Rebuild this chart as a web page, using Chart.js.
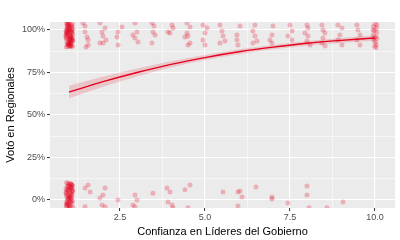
<!DOCTYPE html>
<html><head><meta charset="utf-8">
<script src="https://cdn.jsdelivr.net/npm/chart.js@4/dist/chart.umd.min.js"></script>
<style>html,body{margin:0;padding:0;background:#fff}#wrap{width:400px;height:240px}</style>
</head><body><div id="wrap"><canvas id="c" width="400" height="240"></canvas></div>
<script>
// ---- data ----
const xTicks = [2.5, 5.0, 7.5, 10.0];
const xTickLabels = ["2.5", "5.0", "7.5", "10.0"];
const yTicks = [0, 0.25, 0.5, 0.75, 1];
const yTickLabels = ["0%", "25%", "50%", "75%", "100%"];

// fitted probability curve and its confidence band
const fitX     = [1, 2, 3, 4, 5, 6, 7, 8, 9, 10];
const fitY     = [0.635, 0.696, 0.750, 0.798, 0.838, 0.872, 0.899, 0.922, 0.939, 0.953];
const fitLower = [0.598, 0.666, 0.727, 0.780, 0.823, 0.858, 0.886, 0.908, 0.924, 0.936];
const fitUpper = [0.672, 0.726, 0.773, 0.816, 0.853, 0.886, 0.912, 0.935, 0.953, 0.969];

// jittered observations: voted (near 100%)
const votedX = [0.92,1.05,0.98,1.10,0.95,1.02,1.08,0.91,1.00,1.11,0.96,1.04,0.93,1.07,0.99,1.09,0.94,1.03,1.06,0.97,1.01,1.10,0.92,1.05,0.95,1.08,1.00,0.93,1.04,1.11,0.98,1.02,0.91,1.07,0.96,1.09,0.94,1.03,1.06,0.99,1.00,0.95,1.08,1.02,
  0.97,1.04,0.93,1.09,1.01,0.95,1.06,0.99,1.11,0.92,1.03,1.07,0.96,1.00,1.10,0.94,1.05,0.98,1.08,0.91,1.02,0.97,1.06,0.93,
  1.41,1.47,1.53,1.56,1.50,1.47,1.56,
  1.91,1.97,2.06,1.91,2.00,2.09,2.00,
  2.44,2.41,2.44,2.56,
  2.94,3.00,2.94,3.03,2.88,
  3.44,3.47,3.53,3.44,3.50,
  4.03,3.97,4.06,3.91,
  4.41,4.47,4.56,4.56,4.47,4.50,4.50,
  4.94,5.00,5.06,4.94,5.00,
  5.44,5.50,5.53,5.44,5.59,
  5.94,6.03,5.94,5.97,
  6.47,6.41,6.47,6.53,6.41,
  6.97,7.00,6.97,6.91,
  7.50,7.56,7.44,7.56,
  8.00,8.03,7.94,8.03,8.00,8.09,
  8.44,8.47,8.53,8.47,8.44,8.53,
  8.91,9.03,8.97,8.91,9.03,
  9.47,9.50,9.56,9.47,9.56,
  10.00,9.96,10.04,9.98,10.05,9.95,10.02,10.06,9.97,10.01,10.04,9.99,10.03,9.95,10.06,9.98];
const votedY = [1.04,1.03,1.02,1.035,1.01,1.0,0.99,0.995,0.985,0.975,0.97,0.965,0.955,0.95,0.945,0.94,0.93,0.925,0.92,0.915,0.91,0.905,0.90,0.902,1.045,1.025,1.005,0.98,0.96,0.935,0.915,0.952,0.972,1.015,0.99,1.0,1.022,0.942,0.962,1.032,0.922,0.985,0.932,0.906,
  1.012,0.997,0.978,0.958,0.938,0.918,0.908,1.038,1.008,0.948,0.968,0.988,1.028,0.927,0.945,1.002,0.912,1.042,0.982,0.962,1.018,0.903,0.935,0.993,
  1.041,0.988,0.959,0.941,0.900,1.024,0.912,
  1.041,0.988,1.012,0.924,0.924,0.941,0.965,
  0.988,0.959,0.912,1.018,
  1.041,0.988,0.953,0.929,0.971,
  1.041,0.988,0.971,0.924,1.024,
  1.029,0.982,1.012,0.988,
  0.959,0.982,0.924,1.018,1.041,0.965,0.912,
  1.029,0.982,1.012,0.941,0.912,
  1.029,0.994,0.965,0.924,0.935,
  0.971,1.024,0.941,0.912,
  1.029,0.994,0.965,0.935,0.924,
  0.971,1.024,0.924,0.941,
  1.029,0.994,0.965,0.941,
  1.029,1.012,0.982,0.965,0.935,0.912,
  1.029,1.000,0.982,0.953,0.924,0.906,
  1.029,1.012,0.971,0.941,0.912,
  1.029,1.000,0.971,0.941,0.912,
  1.035,1.020,1.010,0.995,0.985,0.970,0.960,0.950,0.940,0.930,0.915,0.905,0.895,1.000,1.030,0.955];

// jittered observations: did not vote (near 0%)
const notVotedX = [0.93,1.06,0.99,1.10,0.95,1.03,1.08,0.91,1.01,1.11,0.96,1.04,0.92,1.07,0.98,1.09,0.94,1.02,1.06,0.97,1.00,1.10,0.93,1.05,0.96,1.08,1.01,0.92,1.04,1.11,0.98,1.03,0.91,1.07,0.95,1.09,0.94,1.02,1.06,0.99,
  0.97,1.05,0.92,1.08,1.00,0.95,1.10,0.98,1.03,0.93,1.07,1.01,0.96,1.09,0.94,1.04,
  1.47,1.56,1.62,1.91,2.00,2.06,1.97,2.06,1.47,2.44,2.94,3.00,2.88,2.94,3.47,3.88,3.97,3.91,4.03,4.06,4.41,4.56,4.50,
  5.53,5.97,6.03,6.09,5.97,6.50,6.97,6.97,7.44,8.00,8.00,8.06,8.59,9.06];
const notVotedY = [0.102,0.094,0.091,0.084,0.079,0.076,0.069,0.066,0.061,0.054,0.051,0.046,0.041,0.034,0.031,0.026,0.019,0.016,0.011,0.004,0.001,-0.006,-0.009,-0.014,-0.021,-0.024,-0.031,-0.036,-0.039,-0.044,0.098,0.071,0.043,0.012,-0.018,0.086,0.057,0.024,-0.004,-0.033,
  0.063,0.037,-0.027,0.090,0.015,-0.042,0.049,0.081,-0.012,0.028,0.072,-0.047,0.006,0.058,-0.022,0.096,
  0.070,0.088,0.047,0.012,0.030,0.070,-0.030,-0.040,-0.040,0.000,0.030,0.000,-0.030,-0.040,0.040,0.070,0.047,-0.012,-0.030,-0.045,0.060,0.088,-0.045,
  0.047,0.047,0.053,0.018,-0.035,0.076,0.018,0.006,-0.018,0.082,0.030,-0.045,-0.045,-0.012];

const RED = 'rgb(227,0,27)';
const PT  = 'rgba(227,0,27,0.25)';

const toPts = (xs, ys) => xs.map((x, i) => ({x, y: ys[i]}));

const panelBg = {
  id: 'panelBg',
  beforeDraw(chart) {
    const {ctx, chartArea: a} = chart;
    ctx.save();
    ctx.fillStyle = '#EBEBEB';
    ctx.fillRect(a.left, a.top, a.right - a.left, a.bottom - a.top);
    ctx.restore();
  }
};

const isMajor = (v, list) => list.some(t => Math.abs(t - v) < 1e-9);

new Chart(document.getElementById('c'), {
  type: 'scatter',
  data: {
    datasets: [
      { type: 'line', data: toPts(fitX, fitY), borderColor: RED, borderWidth: 1.3,
        pointRadius: 0, fill: false, cubicInterpolationMode: 'monotone', clip: 0, order: 0 },
      { type: 'line', data: toPts(fitX, fitUpper), borderWidth: 0, borderColor: 'rgba(0,0,0,0)',
        backgroundColor: 'rgba(227,0,27,0.16)', pointRadius: 0, fill: '+1', cubicInterpolationMode: 'monotone', clip: 0, order: 1 },
      { type: 'line', data: toPts(fitX, fitLower), borderWidth: 0, borderColor: 'rgba(0,0,0,0)',
        pointRadius: 0, fill: false, cubicInterpolationMode: 'monotone', clip: 0, order: 2 },
      { data: toPts(votedX, votedY), backgroundColor: PT, borderWidth: 0, pointRadius: 2.5, clip: 0, order: 3 },
      { data: toPts(notVotedX, notVotedY), backgroundColor: PT, borderWidth: 0, pointRadius: 2.5, clip: 0, order: 4 }
    ]
  },
  options: {
    responsive: false,
    animation: false,
    devicePixelRatio: 1,
    layout: { padding: { top: 22, right: 5, left: 0, bottom: 0 } },
    plugins: { legend: { display: false }, tooltip: { enabled: false } },
    scales: {
      x: {
        type: 'linear', min: 0.44, max: 10.59,
        afterBuildTicks: s => { s.ticks = [1.25, 2.5, 3.75, 5.0, 6.25, 7.5, 8.75, 10.0].map(v => ({value: v})); },
        afterFit: s => { s.height = 32; },
        border: { display: false },
        grid: {
          color: '#FFFFFF',
          lineWidth: c => isMajor(c.tick.value, xTicks) ? 1.1 : 0.55,
          tickColor: c => isMajor(c.tick.value, xTicks) ? '#333333' : 'rgba(0,0,0,0)',
          tickLength: 3, tickWidth: 1
        },
        ticks: {
          autoSkip: false, maxRotation: 0, padding: 1, color: '#4D4D4D',
          font: { family: 'Liberation Sans, Arial, sans-serif', size: 9 },
          callback: v => { const i = xTicks.findIndex(t => Math.abs(t - v) < 1e-9); return i >= 0 ? xTickLabels[i] : ''; }
        },
        title: { display: true, text: 'Confianza en Líderes del Gobierno', color: '#000',
          font: { family: 'Liberation Sans, Arial, sans-serif', size: 11 }, padding: { top: 0, bottom: 1 } }
      },
      y: {
        type: 'linear', min: -0.047, max: 1.047,
        afterBuildTicks: s => { s.ticks = [0, 0.125, 0.25, 0.375, 0.5, 0.625, 0.75, 0.875, 1].map(v => ({value: v})); },
        afterFit: s => { s.width = 50; },
        border: { display: false },
        grid: {
          color: '#FFFFFF',
          lineWidth: c => isMajor(c.tick.value, yTicks) ? 1.1 : 0.55,
          tickColor: c => isMajor(c.tick.value, yTicks) ? '#333333' : 'rgba(0,0,0,0)',
          tickLength: 3, tickWidth: 1
        },
        ticks: {
          autoSkip: false, padding: 2, color: '#4D4D4D',
          font: { family: 'Liberation Sans, Arial, sans-serif', size: 9 },
          callback: v => { const i = yTicks.findIndex(t => Math.abs(t - v) < 1e-9); return i >= 0 ? yTickLabels[i] : ''; }
        },
        title: { display: true, text: 'Votó en Regionales', color: '#000',
          font: { family: 'Liberation Sans, Arial, sans-serif', size: 11 }, padding: { top: 4, bottom: 0 } }
      }
    }
  },
  plugins: [panelBg]
});
</script>
</body></html>
